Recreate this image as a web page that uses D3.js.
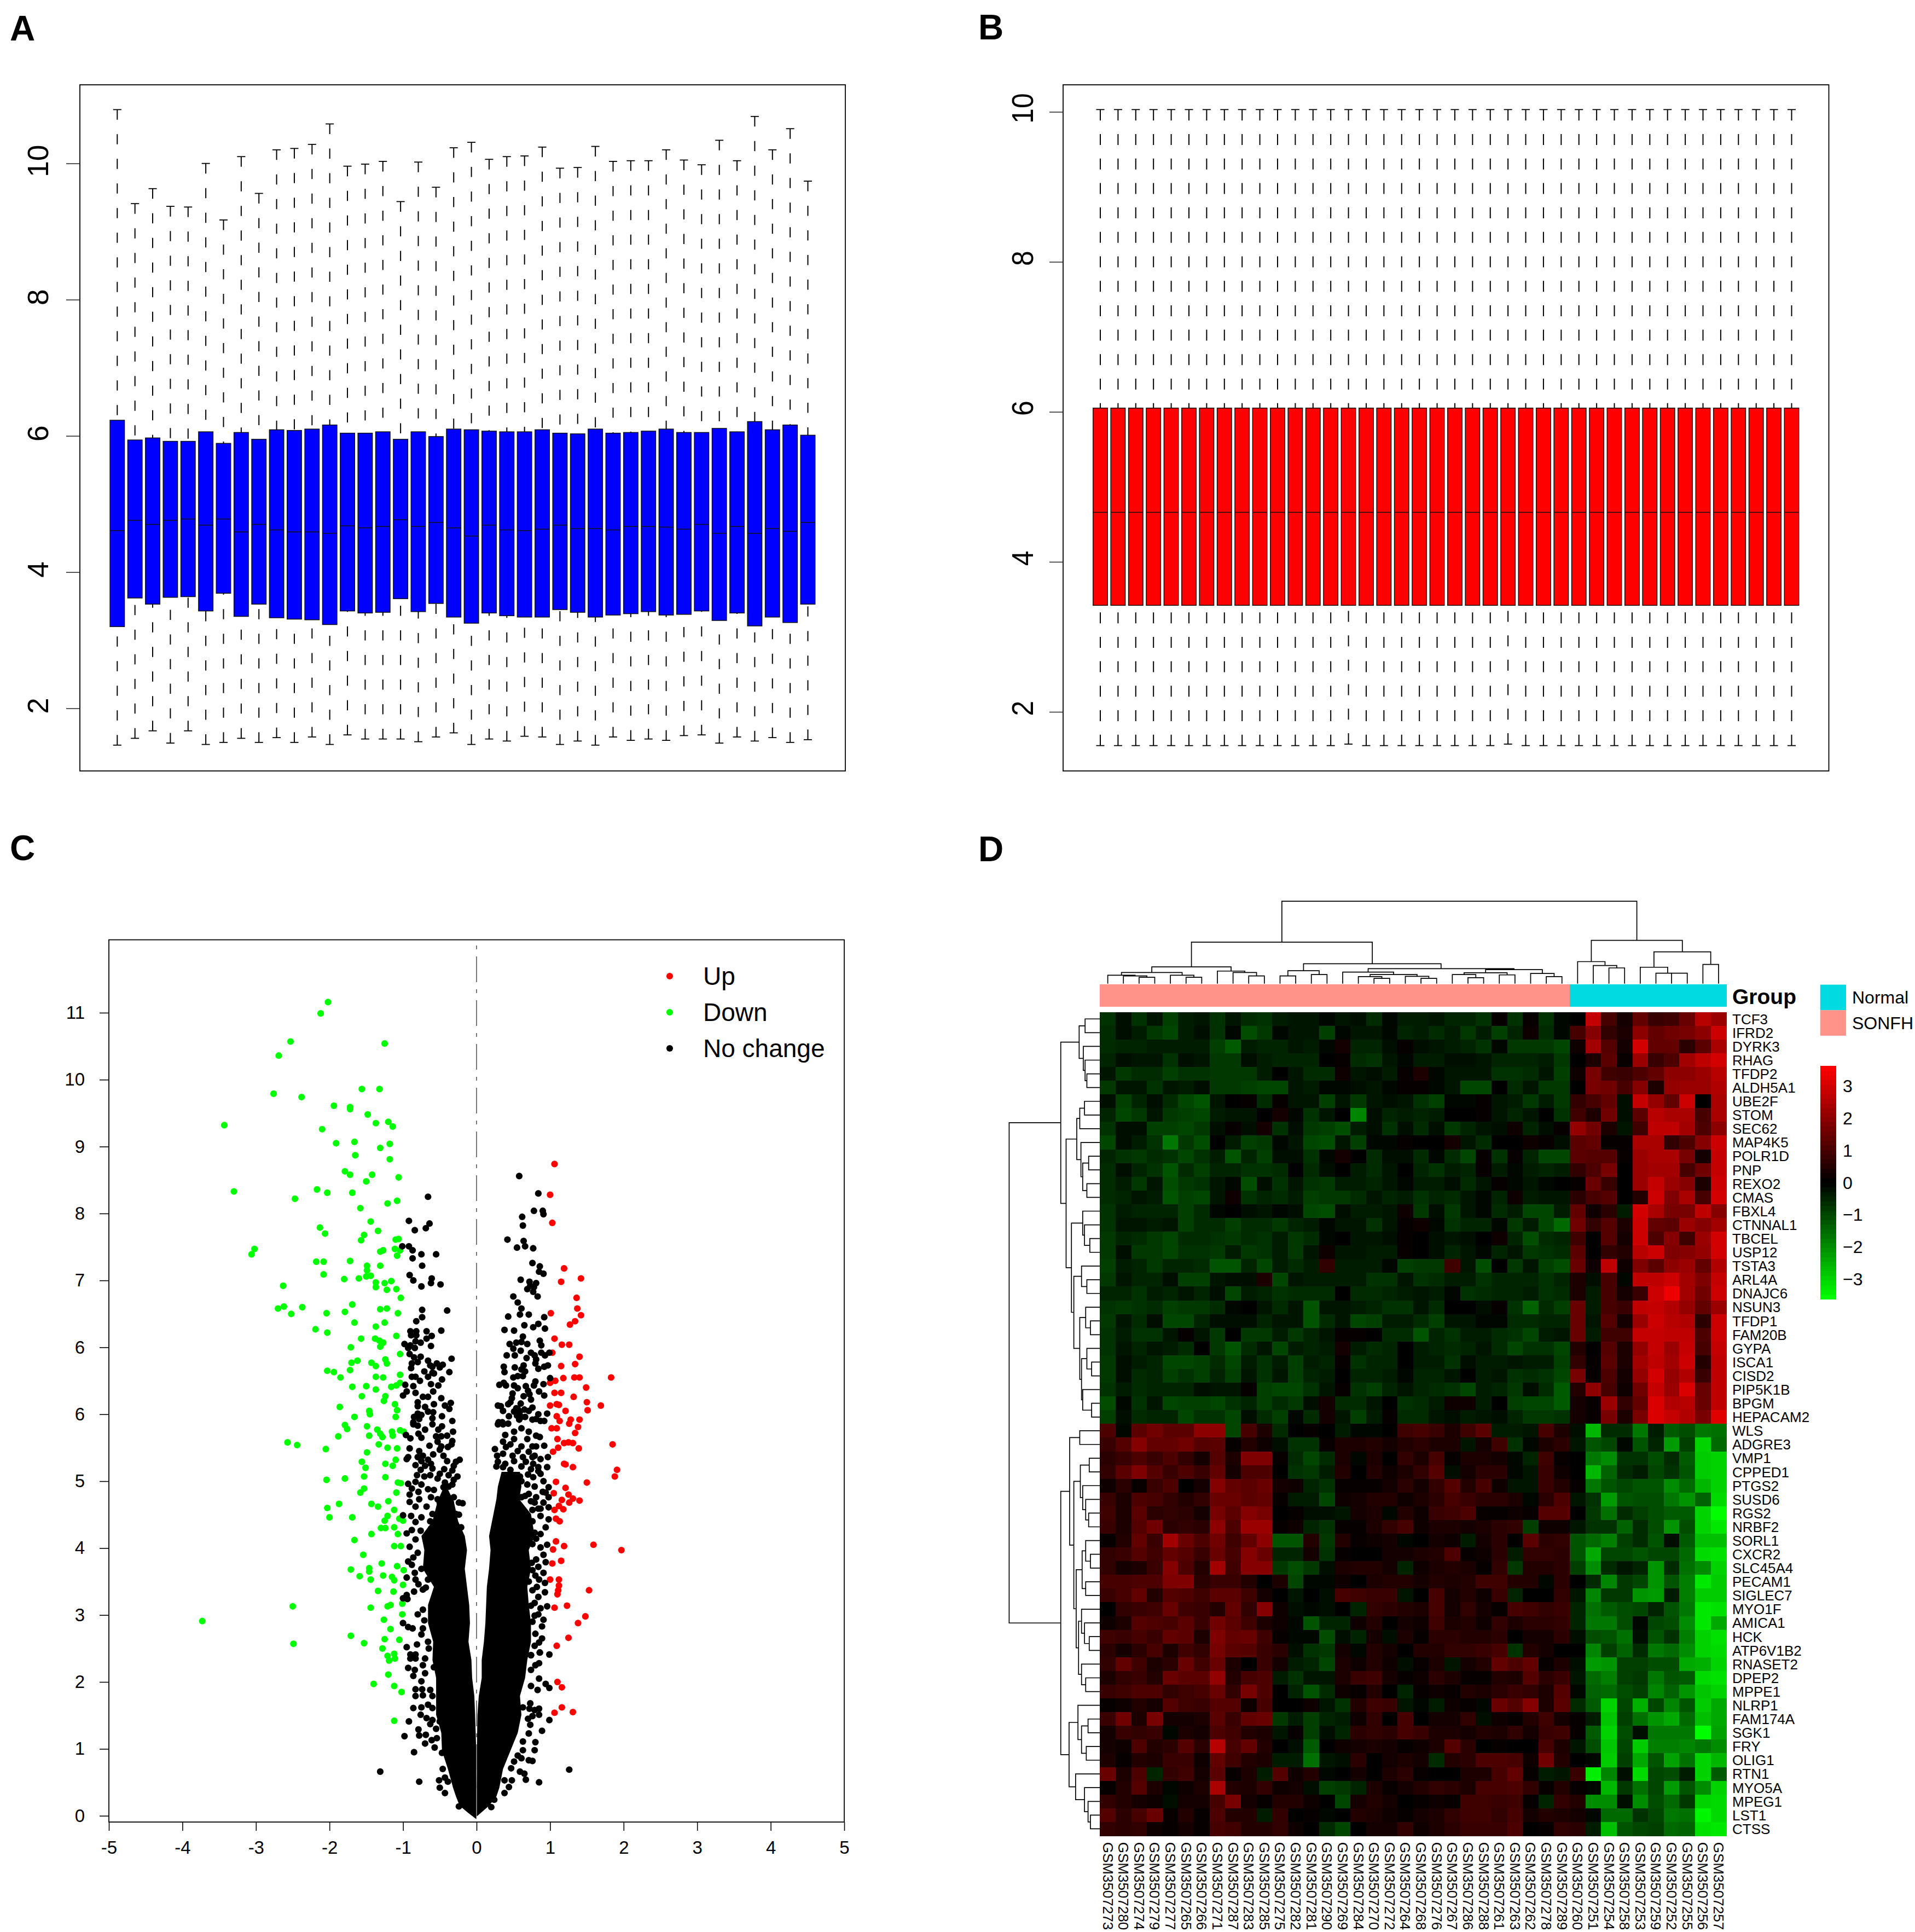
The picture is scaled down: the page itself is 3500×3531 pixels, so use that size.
<!DOCTYPE html>
<html>
<head>
<meta charset="utf-8">
<script src="https://cdn.jsdelivr.net/npm/d3@7"></script>
<style>
  body { margin: 0; background: #fff; }
  text { font-family: "Liberation Sans", Arial, sans-serif; fill: #000; }
</style>
</head>
<body>
<svg id="fig" width="3500" height="3531"></svg>
<script>
// Panel A, box statistics per sample (before normalisation)
const rawHigh = [10.79,9.41,9.63,9.37,9.36,10.0,9.17,10.10,9.56,10.20,10.22,10.28,10.58,9.96,9.99,10.03,9.44,10.02,9.65,10.23,10.31,10.06,10.10,10.11,10.24,9.93,9.94,10.25,10.03,10.04,10.04,10.20,10.05,9.98,10.34,10.04,10.69,10.20,10.51,9.74];
const rawQ3 = [6.23,5.94,5.97,5.92,5.92,6.06,5.89,6.05,5.95,6.09,6.08,6.10,6.16,6.04,6.04,6.06,5.95,6.06,5.99,6.10,6.09,6.07,6.06,6.06,6.09,6.04,6.03,6.10,6.04,6.05,6.07,6.10,6.05,6.05,6.11,6.06,6.21,6.09,6.16,6.01];
const rawMedian = [4.61,4.76,4.70,4.76,4.78,4.69,4.78,4.59,4.70,4.62,4.59,4.59,4.57,4.68,4.65,4.67,4.77,4.67,4.73,4.65,4.53,4.69,4.62,4.61,4.63,4.69,4.64,4.64,4.62,4.67,4.67,4.66,4.63,4.70,4.57,4.67,4.57,4.64,4.60,4.73];
const rawQ1 = [3.20,3.62,3.53,3.63,3.64,3.43,3.69,3.35,3.53,3.33,3.31,3.30,3.23,3.43,3.40,3.41,3.61,3.42,3.54,3.34,3.25,3.40,3.36,3.34,3.34,3.45,3.41,3.34,3.37,3.39,3.42,3.37,3.38,3.43,3.29,3.40,3.21,3.34,3.26,3.53];
const rawLow = [1.46,1.56,1.67,1.49,1.67,1.47,1.50,1.56,1.50,1.57,1.50,1.58,1.47,1.61,1.55,1.55,1.55,1.51,1.58,1.64,1.47,1.55,1.52,1.59,1.58,1.47,1.52,1.46,1.58,1.53,1.55,1.53,1.60,1.61,1.49,1.58,1.52,1.57,1.50,1.54];

// Panel B, after normalisation
const normHigh = [10.03,10.03,10.03,10.03,10.03,10.03,10.03,10.03,10.03,10.03,10.03,10.03,10.03,10.03,10.03,10.03,10.03,10.03,10.03,10.03,10.03,10.03,10.03,10.03,10.03,10.03,10.03,10.03,10.03,10.03,10.03,10.03,10.03,10.03,10.03,10.03,10.03,10.03,10.03,10.03];
const normQ3 = [6.05,6.05,6.05,6.05,6.05,6.05,6.05,6.05,6.05,6.05,6.05,6.05,6.05,6.05,6.05,6.05,6.05,6.05,6.05,6.05,6.05,6.05,6.05,6.05,6.05,6.05,6.05,6.05,6.05,6.05,6.05,6.05,6.05,6.05,6.05,6.05,6.05,6.05,6.05,6.05];
const normMedian = [4.66,4.66,4.66,4.66,4.66,4.66,4.66,4.66,4.66,4.66,4.66,4.66,4.66,4.66,4.66,4.66,4.66,4.66,4.66,4.66,4.66,4.66,4.66,4.66,4.66,4.66,4.66,4.66,4.66,4.66,4.66,4.66,4.66,4.66,4.66,4.66,4.66,4.66,4.66,4.66];
const normQ1 = [3.42,3.42,3.42,3.42,3.42,3.42,3.42,3.42,3.42,3.42,3.42,3.42,3.42,3.42,3.42,3.42,3.42,3.42,3.42,3.42,3.42,3.42,3.42,3.42,3.42,3.42,3.42,3.42,3.42,3.42,3.42,3.42,3.42,3.42,3.42,3.42,3.42,3.42,3.42,3.42];
const normLow = [1.55,1.55,1.55,1.55,1.55,1.55,1.55,1.55,1.55,1.55,1.55,1.55,1.55,1.55,1.57,1.55,1.55,1.55,1.55,1.55,1.55,1.55,1.55,1.57,1.55,1.55,1.55,1.55,1.55,1.55,1.55,1.55,1.55,1.55,1.55,1.55,1.55,1.55,1.55,1.55];
const boxTicks = [2, 4, 6, 8, 10];

// Panel C, volcano points as [logFC, position on the y axis]
const volcanoXTicks = [-5,-4,-3,-2,-1,0,1,2,3,4,5];
const volcanoYLabels = ["0","1","2","3","4","5","6","6","7","8","9","10","11"];
const volcanoLegend = ["Up", "Down", "No change"];
const downPoints = [[-2.02,12.16],[-2.12,11.99],[-2.53,11.57],[-1.25,11.54],[-2.69,11.36],[-2.76,10.79],[-2.38,10.74],[-1.56,10.86],[-1.32,10.86],[-1.94,10.61],[-1.72,10.59],[-1.72,10.56],[-1.48,10.48],[-1.37,10.35],[-1.20,10.37],[-1.14,10.30],[-3.43,10.32],[-2.10,10.26],[-1.91,10.05],[-1.66,10.07],[-1.31,9.98],[-1.18,10.04],[-1.65,9.87],[-1.18,9.81],[-1.79,9.63],[-1.72,9.58],[-1.42,9.58],[-1.50,9.48],[-1.06,9.54],[-3.30,9.33],[-2.47,9.22],[-2.17,9.36],[-2.03,9.31],[-1.69,9.31],[-1.21,9.15],[-1.08,9.19],[-1.58,9.08],[-1.44,8.88],[-2.13,8.79],[-2.06,8.70],[-1.34,8.74],[-1.53,8.68],[-1.57,8.60],[-1.06,8.62],[-1.10,8.61],[-1.27,8.45],[-1.31,8.43],[-1.11,8.47],[-1.04,8.45],[-1.08,8.37],[-3.02,8.47],[-3.06,8.39],[-2.18,8.28],[-2.08,8.28],[-1.72,8.29],[-1.49,8.22],[-1.31,8.22],[-2.08,8.09],[-1.49,8.15],[-1.80,8.02],[-1.60,8.03],[-1.50,8.06],[-1.44,8.07],[-1.37,7.97],[-1.25,7.96],[-1.16,7.99],[-1.37,7.90],[-1.22,7.86],[-1.09,7.87],[-2.63,7.92],[-2.70,7.58],[-2.62,7.61],[-2.37,7.60],[-2.52,7.50],[-2.04,7.51],[-1.79,7.53],[-1.69,7.64],[-1.31,7.57],[-1.22,7.58],[-1.07,7.51],[-1.03,7.74],[-1.66,7.37],[-2.19,7.27],[-2.03,7.22],[-1.37,7.31],[-1.25,7.37],[-1.09,7.17],[-1.57,7.13],[-1.38,7.13],[-1.32,7.10],[-1.27,7.07],[-1.71,7.00],[-1.31,7.01],[-1.04,6.90],[-1.62,6.80],[-1.70,6.77],[-1.43,6.77],[-1.37,6.72],[-1.24,6.82],[-1.22,6.76],[-2.03,6.65],[-1.94,6.63],[-1.85,6.55],[-1.72,6.66],[-1.37,6.56],[-1.27,6.55],[-1.50,6.42],[-1.69,6.41],[-1.37,6.37],[-1.16,6.41],[-1.09,6.43],[-1.04,6.47],[-1.04,6.59],[-1.56,6.27],[-1.24,6.27],[-1.26,6.20],[-1.11,6.15],[-1.86,6.11],[-1.46,6.05],[-1.08,6.06],[-1.66,5.96],[-1.45,6.00],[-1.10,5.96],[-1.79,5.84],[-1.76,5.78],[-1.49,5.82],[-1.35,5.77],[-1.31,5.71],[-1.15,5.74],[-1.04,5.76],[-1.88,5.67],[-1.46,5.68],[-1.28,5.66],[-1.14,5.68],[-0.99,5.74],[-2.57,5.58],[-2.44,5.54],[-2.05,5.48],[-1.49,5.43],[-1.33,5.55],[-1.21,5.50],[-1.08,5.49],[-1.56,5.29],[-1.24,5.26],[-1.10,5.32],[-1.14,5.23],[-1.51,5.20],[-2.04,5.02],[-1.79,5.04],[-1.53,5.07],[-1.24,5.06],[-1.07,4.98],[-1.53,4.89],[-1.58,4.83],[-1.03,4.97],[-1.09,4.83],[-2.03,4.60],[-1.87,4.66],[-1.43,4.66],[-1.34,4.62],[-1.20,4.70],[-1.12,4.57],[-2.00,4.46],[-1.69,4.46],[-1.21,4.48],[-1.25,4.41],[-1.05,4.44],[-1.30,4.30],[-1.24,4.30],[-1.12,4.31],[-1.00,4.41],[-1.43,4.21],[-1.07,4.21],[-1.66,4.12],[-1.03,4.03],[-1.12,4.03],[-1.54,3.90],[-1.29,3.77],[-1.71,3.68],[-1.46,3.70],[-1.46,3.65],[-1.08,3.73],[-1.59,3.58],[-1.44,3.53],[-1.27,3.59],[-1.15,3.57],[-1.12,3.52],[-0.99,3.67],[-1.34,3.36],[-1.13,3.35],[-1.00,3.45],[-1.44,3.11],[-1.21,3.13],[-2.50,3.13],[-1.17,3.15],[-1.01,3.17],[-1.01,3.01],[-3.73,2.91],[-1.26,2.93],[-1.17,2.79],[-1.71,2.69],[-1.05,2.63],[-1.25,2.64],[-1.53,2.58],[-2.49,2.57],[-1.28,2.50],[-1.21,2.39],[-1.12,2.42],[-1.19,2.32],[-1.11,2.35],[-1.20,2.11],[-1.40,1.97],[-1.12,1.94],[-1.02,1.85],[-1.12,1.42]];
const upPoints = [[1.06,9.74],[1.00,9.28],[1.03,8.86],[1.19,8.18],[1.42,8.03],[1.15,7.98],[1.36,7.74],[1.37,7.58],[1.01,7.51],[1.42,7.48],[1.34,7.39],[1.27,7.34],[1.06,7.13],[1.26,7.04],[1.16,7.04],[1.40,6.86],[1.03,6.92],[1.15,6.72],[1.34,6.75],[1.83,6.55],[1.18,6.54],[1.33,6.55],[1.40,6.55],[1.00,6.47],[1.07,6.50],[1.49,6.40],[1.06,6.32],[1.15,6.32],[1.69,6.13],[1.50,6.18],[1.32,6.26],[1.00,6.13],[1.12,6.14],[1.09,6.15],[1.21,6.05],[1.28,5.92],[1.40,5.92],[1.51,6.06],[1.09,5.97],[1.13,5.90],[1.26,5.86],[1.02,5.79],[1.09,5.79],[1.38,5.81],[1.34,5.72],[1.10,5.63],[1.19,5.57],[1.25,5.58],[1.31,5.57],[1.85,5.55],[1.39,5.49],[1.04,5.44],[1.11,5.50],[1.19,5.26],[1.21,5.25],[1.31,5.21],[1.91,5.17],[1.88,5.07],[1.08,4.99],[1.50,4.98],[1.21,4.90],[1.05,4.82],[1.25,4.80],[1.16,4.72],[1.31,4.74],[1.26,4.68],[1.40,4.71],[1.12,4.63],[1.18,4.58],[1.06,4.57],[1.08,4.44],[1.13,4.40],[1.19,4.03],[1.59,4.05],[1.97,3.97],[1.04,3.98],[1.08,4.10],[1.15,3.81],[1.03,3.77],[1.12,3.53],[1.00,3.53],[1.12,3.44],[1.11,3.37],[1.53,3.37],[1.10,3.31],[1.06,3.11],[1.23,3.14],[1.48,2.98],[1.38,2.88],[1.25,2.66],[1.09,2.54],[1.10,2.00],[1.16,1.92],[1.16,1.62],[1.06,1.54],[1.31,1.55]];
const noChangeLeft = [[-.66,9.25],[-.92,8.89],[-.64,8.85],[-.69,8.78],[-.84,8.75],[-1.01,8.51],[-.92,8.51],[-.87,8.45],[-.75,8.39],[-.55,8.39],[-.87,8.33],[-.74,8.22],[-.91,8.08],[-.86,8.00],[-.61,8.03],[-.62,7.96],[-.75,7.91],[-.49,7.94],[-.74,7.56],[-.40,7.55],[-.74,7.45],[-.82,7.39],[-.90,7.24],[-.82,7.24],[-.68,7.24],[-.48,7.25],[-.89,7.18],[-.82,7.18],[-.61,7.17],[-.68,7.13],[-.83,7.09],[-.76,7.07],[-.98,7.05],[-.90,7.03],[-.62,7.02],[-.93,6.99],[-.84,6.99],[-.91,6.90],[-.76,6.86],[-.85,6.85],[-.34,6.83],[-.66,6.80],[-.80,6.78],[-.88,6.76],[-.54,6.76],[-.46,6.74],[-.63,6.73],[-.50,6.70],[-.60,6.71],[-.89,6.69],[-.71,6.64],[-.37,6.63],[-.60,6.62],[-.58,6.61],[-.88,6.56],[-.83,6.56],[-.66,6.56],[-.47,6.52],[-.77,6.50],[-.62,6.45],[-.52,6.43],[-.97,6.44],[-.86,6.42],[-.95,6.34],[-.83,6.32],[-.59,6.34],[-1.00,6.28],[-.73,6.26],[-.66,6.26],[-.48,6.24],[-.80,6.18],[-.58,6.15],[-.35,6.17],[-.43,6.13],[-.80,6.12],[-.70,6.11],[-.37,6.08],[-.66,6.04],[-.59,6.03],[-.80,6.01],[-.85,5.96],[-.75,5.99],[-.47,5.97],[-.78,5.93],[-.60,5.94],[-.33,5.90],[-.86,5.88],
[-.86,5.85],[-.80,5.83],[-.70,5.77],[-.60,5.85],[-.47,5.82],[-.52,5.77],[-.32,5.74],[-.79,5.71],[-.96,5.69],[-.75,5.65],[-.90,5.64],[-.55,5.67],[-.48,5.67],[-.40,5.68],[-.53,5.59],[-.33,5.60],[-.39,5.51],[-.64,5.53],[-.48,5.52],[-.91,5.49],[-.78,5.45],[-.50,5.47],[-.34,5.55],[-.93,5.36],[-.80,5.36],[-.95,5.33],[-.73,5.38],[-.59,5.40],[-.45,5.38],[-.75,5.30],[-.66,5.32],[-.40,5.30],[-.28,5.29],[-.23,5.32],[-.83,5.24],[-.70,5.23],[-.62,5.26],[-.31,5.23],[-.76,5.17],[-.60,5.19],[-.44,5.18],[-.33,5.16],[-.81,5.09],[-.71,5.07],[-.63,5.09],[-.50,5.11],[-.38,5.09],[-.26,5.07],[-.53,5.04],[-.31,5.02],[-.83,4.99],[-.93,4.96],[-.75,4.95],[-.43,4.98],[-.33,4.95],[-.88,4.89],[-.79,4.84],[-.66,4.88],[-.58,4.87],[-.45,4.91],[-.38,4.92],[-.91,4.80],[-.78,4.73],[-.62,4.76],[-.53,4.73],[-.40,4.78],[-.31,4.76],[-.19,4.67],[-.91,4.69],[-.83,4.62],[-.68,4.62],[-.50,4.68],[-.35,4.68],[-.24,4.68],[-1.00,4.49],[-.89,4.48],[-.75,4.46],[-.60,4.51],[-.43,4.57],[-.28,4.51],[-.24,4.50],[-.83,4.39],[-.63,4.40],[-.47,4.43],[-.33,4.40],[-.21,4.31],[-.95,4.22],[-.88,4.27],[-.76,4.26],[-.62,4.29],[-.50,4.32],[-.31,4.31],[-.83,4.13],[-.91,4.02],[-.80,3.93],[-.86,3.86],[-.93,3.80],[-.88,3.75],[-.75,3.69],[-.84,3.63],[-.83,3.53],[-.95,3.56],[-.66,3.53],[-.79,3.46],[-.69,3.41],[-.85,3.35],[-.73,3.38],[-.95,3.30],[-1.00,3.25],[-.94,3.24],[-.73,3.08],[-.80,3.01],[-.71,2.92],[-1.00,2.88],[-.93,2.82],[-.87,2.80],[-.73,2.80],[-.75,2.71],[-.66,2.60],[-.65,2.50],
[-.95,2.52],[-.81,2.56],[-.90,2.41],[-.83,2.41],[-.90,2.35],[-.83,2.35],[-.70,2.35],[-.93,2.21],[-.84,2.18],[-.73,2.25],[-.86,2.09],[-.58,2.22],[-.70,2.13],[-.75,2.01],[-.83,1.89],[-.74,1.89],[-.63,1.88],[-.83,1.79],[-.73,1.80],[-.60,1.79],[-.86,1.61],[-.75,1.62],[-.66,1.66],[-.60,1.61],[-.76,1.51],[-.68,1.46],[-.60,1.43],[-.92,1.41],[-.63,1.37],[-.50,1.41],[-.79,1.29],[-.55,1.30],[-.98,1.19],[-.78,1.20],[-.69,1.21],[-.61,1.13],[-.54,1.16],[-.70,1.08],[-.57,1.02],[-.85,.95],[-.47,.94],[-1.31,.66],[-.46,.70],[-.43,.57],[-.78,.51],[-.51,.53],[-.39,.51],[-.50,.42],[-.43,.34],[-.24,.14]];
const noChangeRight = [[.58,9.56],[.84,9.30],[.78,9.04],[.90,9.04],[.91,8.99],[.62,8.95],[.63,8.82],[.42,8.61],[.64,8.59],[.55,8.49],[.66,8.51],[.77,8.48],[.76,8.26],[.86,8.21],[.85,8.13],[.91,8.10],[.60,8.01],[.72,7.98],[.81,7.96],[.73,7.92],[.78,7.90],[.69,7.87],[.77,7.83],[.83,7.76],[.50,7.76],[.56,7.67],[.61,7.58],[.43,7.46],[.59,7.49],[.71,7.49],[.92,7.45],[.65,7.33],[.84,7.35],[.77,7.30],[.38,7.26],[.51,7.25],[.93,7.28],[.63,7.16],[.86,7.10],[.54,7.07],[.45,7.05],[.61,7.08],[.69,7.05],[.88,7.03],[.50,6.98],[.60,6.95],[.74,6.92],[.99,6.92],[.88,6.92],[.41,6.88],[.52,6.88],[.79,6.88],[.93,6.88],[.68,6.84],[.81,6.82],[.80,6.76],[.64,6.73],[.37,6.71],[.52,6.70],[.97,6.73],[.92,6.71],[.84,6.68],[.61,6.67],[.66,6.64],[.38,6.63],[.63,6.57],[.50,6.55],[.56,6.57],[1.00,6.54],[.80,6.49],[.37,6.47],[.31,6.44],[.40,6.43],[.78,6.43],[.91,6.45],[.51,6.43],[.67,6.42],[.56,6.39],[.70,6.35],[.85,6.34],[.49,6.31],[.72,6.30],[.92,6.28],[.64,6.27],[.48,6.24],[.74,6.22],[.46,6.18],[.60,6.16],[.29,6.13],[.33,6.12],[.43,6.15],[.76,6.10],[.36,6.05],[.54,6.09],[.65,6.07],[.71,6.05],[.59,6.04],[.84,6.00],[.96,6.01],[.44,5.97],[.55,5.98],[.66,5.96],[.76,5.92],[.81,5.93],[.30,5.88],[.35,5.88],[.58,5.92],[.92,5.90],[.87,5.90],[.56,6.08],[.58,5.98],[.51,6.04],[.61,5.96],
[.86,5.66],[.92,5.53],[.81,5.52],[.97,5.36],[.87,5.33],[.79,5.38],[.96,5.21],[.91,5.00],[.87,5.11],[.84,5.21],[.98,4.91],[.90,4.84],[.98,4.76],[.81,4.76],[.94,4.83],[.98,4.61],[.87,4.59],[.79,4.68],[.87,4.48],[.98,4.43],[.94,4.31],[.87,4.21],[.79,4.23],[.81,4.14],[.96,4.05],[.87,4.01],[.76,4.06],[.91,3.90],[.81,3.83],[.94,3.79],[.75,3.78],[.84,3.72],[.91,3.63],[.76,3.67],[.80,3.59],[.85,3.53],[.93,3.48],[.71,3.50],[.82,3.42],[.93,3.34],[.76,3.37],[.84,3.27],[.79,3.18],[.96,3.13],[.87,3.10],[.74,3.14],[.84,3.01],[.79,2.99],[.91,2.93],[.76,2.90],[.89,2.83],[.80,2.72],[.89,2.65],[.85,2.59],[.79,2.54],[.74,2.40],[.86,2.44],
[.29,5.85],[.36,5.85],[.43,5.86],[.51,5.74],[.61,5.79],[.71,5.74],[.81,5.68],[.39,5.69],[.51,5.63],[.69,5.63],[.36,5.59],[.46,5.55],[.61,5.52],[.76,5.52],[.25,5.48],[.40,5.51],[.56,5.45],[.71,5.44],[.28,5.38],[.36,5.41],[.49,5.38],[.63,5.36],[.76,5.36],[.29,5.29],[.39,5.26],[.51,5.30],[.67,5.29],[.77,5.26],[.27,5.22],[.36,5.21],[.61,5.22],[.74,5.18],[.46,5.17],[.59,5.07],[.70,5.10],[.77,5.06],[.61,5.00],[.84,5.15],[.69,4.95],[.79,4.92],[.66,4.78],[.61,4.76],[.74,4.70],[.71,4.81],[.84,4.59],[.91,4.68],[.76,4.57],[.76,4.40],[.71,4.29],
[.86,2.44],[.99,2.41],[.74,2.40],[.85,2.28],[.74,2.18],[.80,2.25],[.85,2.05],[.94,1.97],[.99,1.91],[.83,1.88],[.74,1.94],[.73,1.68],[.63,1.62],[.72,1.60],[.85,1.60],[.79,1.58],[.85,1.51],[.76,1.49],[.99,1.43],[.70,1.45],[.73,1.36],[.89,1.27],[.71,1.23],[.63,1.11],[.80,1.10],[.79,.98],[.63,.98],[.56,.90],[.61,.86],[.71,.83],[.76,.82],[.51,.81],[.47,.71],[.59,.66],[.65,.63],[.67,.54],[.85,.50],[1.26,.69],[.48,.53],[.38,.53],[.44,.43],[.38,.34],[.24,.24],[.20,.13]];
// Envelope of the overplotted mass of points: [y, outer x, inner x]
const coreLeft = [[-.05,-.003,-.003],[.04,-.11,-.003],[.15,-.23,-.003],[.29,-.28,-.003],[.42,-.32,-.003],[.70,-.39,-.004],[.97,-.47,-.005],[1.24,-.48,-.012],[1.51,-.55,-.02],[1.79,-.55,-.03],[2.06,-.55,-.06],[2.33,-.60,-.07],[2.6,-.59,-.11],[2.88,-.66,-.09],[3.15,-.66,-.10],[3.42,-.58,-.13],[3.69,-.73,-.16],[3.97,-.71,-.13],[4.18,-.75,-.16],[4.4,-.60,-.25],[4.70,-.53,-.31],[4.9,-.45,-.40]];
const coreRight = [[-.01,.003,.003],[.15,.17,.003],[.29,.27,.003],[.42,.31,.003],[.70,.36,.004],[.97,.46,.005],[1.24,.56,.008],[1.51,.61,.012],[1.79,.59,.03],[2.06,.66,.07],[2.33,.69,.07],[2.6,.74,.10],[2.88,.74,.12],[3.15,.71,.13],[3.42,.69,.14],[3.69,.74,.17],[3.97,.71,.19],[4.18,.79,.17],[4.51,.74,.23],[4.73,.58,.27],[4.92,.61,.29],[5.14,.59,.34]];

// Panel D
const sampleNames = ["GSM3507273","GSM3507280","GSM3507274","GSM3507279","GSM3507277","GSM3507265","GSM3507266","GSM3507271","GSM3507287","GSM3507283","GSM3507285","GSM3507275","GSM3507282","GSM3507281","GSM3507290","GSM3507269","GSM3507284","GSM3507270","GSM3507272","GSM3507264","GSM3507268","GSM3507276","GSM3507267","GSM3507286","GSM3507288","GSM3507261","GSM3507263","GSM3507262","GSM3507278","GSM3507289","GSM3507260","GSM3507251","GSM3507254","GSM3507258","GSM3507253","GSM3507259","GSM3507252","GSM3507255","GSM3507256","GSM3507257"];
const geneNames = ["TCF3","IFRD2","DYRK3","RHAG","TFDP2","ALDH5A1","UBE2F","STOM","SEC62","MAP4K5","POLR1D","PNP","REXO2","CMAS","FBXL4","CTNNAL1","TBCEL","USP12","TSTA3","ARL4A","DNAJC6","NSUN3","TFDP1","FAM20B","GYPA","ISCA1","CISD2","PIP5K1B","BPGM","HEPACAM2","WLS","ADGRE3","VMP1","CPPED1","PTGS2","SUSD6","RGS2","NRBF2","SORL1","CXCR2","SLC45A4","PECAM1","SIGLEC7","MYO1F","AMICA1","HCK","ATP6V1B2","RNASET2","DPEP2","MPPE1","NLRP1","FAM174A","SGK1","FRY","OLIG1","RTN1","MYO5A","MPEG1","LST1","CTSS"];
const groupColors = { SONFH: "#ff9289", Normal: "#00dae0" };
const sonfhColumns = 30;
const colorTicks = [3, 2, 1, 0, -1, -2, -3];

// z-scores, first 30 columns of each row
const heatSonfh = [
[-.7,-.2,-.7,-.3,-.9,-.4,-.3,-.7,-.3,-.6,-.7,-.4,-.3,-.3,-.1,-.3,-.2,-.6,-.1,-.4,-.4,-.3,-.5,-.5,-.7,.1,-.7,.1,-.7,-.1],
[-.6,-.2,-.4,-.8,-1,-.4,-.2,-.7,-.1,-1.1,-.8,-.1,-.3,-.3,-.9,-.1,-.3,-.3,-.1,-.5,-.4,-.6,-.4,-.8,-.4,-.9,-.5,.2,-.6,-.1],
[-.6,-.5,-.5,-.4,-.4,-.4,-.4,-.9,-1.3,-.4,-.5,-.5,-.3,-.4,-.1,.3,-.5,-.5,-.2,.1,-.2,-.3,-.4,-.5,-.7,-.1,-.8,-.8,-.8,-1],
[-.5,-.2,-.3,-.3,-.7,-.2,-.3,-.8,-.8,-.2,-.4,-.5,-.5,-.5,0,.1,-.6,-.7,-.3,-.1,-.4,-.4,-.2,-.2,-.3,-.5,-.5,-.5,-.4,-.8],
[-.3,-.8,-.6,-.6,-.9,-.7,-.7,-.8,-.8,-.8,-.4,0,-.3,-.6,-.6,.2,-.3,-.2,-.4,.1,.4,-.1,-.3,-.3,-.3,-.7,-.7,-.6,-.3,-.9],
[-.8,-.3,-.3,-.7,-.3,-.4,-.2,-.8,-.8,-.9,-1,-1,-.3,-.4,-.1,-.1,-.2,-.3,-.1,.1,.1,-.1,-.3,-1,-1,0,-.6,-.3,-.8,-.8],
[-.2,-.9,-.5,-.2,-.6,-1,-1.2,-.3,0,.1,-.6,.1,-.3,-.3,-.9,-.3,-.8,-.3,-.2,-.3,-.7,-.9,-.1,-.1,.1,-.3,-.4,-.8,-.4,-.8],
[-.5,-1,-.8,-.3,-.8,-.9,-1,-.4,-.3,-.3,0,.3,-.1,-.7,-.3,0,-1.9,-.2,-.5,-.4,-.5,-.4,0,0,.1,-.3,-.5,-.3,0,-.7],
[-.7,-.2,-.2,-.9,-.9,-1,-.8,-.2,.1,-.2,.3,-.7,-.2,-.8,-.9,-1.1,-.4,-.2,-.7,-.2,-.6,-.2,-.8,-.5,-.3,-.2,.2,-.5,-.2,.1],
[-1,-.2,-.4,-.7,-1.7,-.8,-1.1,0,-.4,-.9,-.8,-.1,-.3,-1,-1.1,-.3,-.9,-.1,-.1,.1,0,0,.3,-.3,-.6,0,0,.2,.1,-.2],
[-.5,-.7,-.8,-.6,-.7,-1,-.7,-.4,-1.2,-.5,-.9,-.2,-.2,-.7,-.1,.3,0,-.6,-.2,-.2,-.6,-.1,-.6,-1,.1,-.7,.1,-.5,-1,-1],
[-.6,-.2,-.5,-.7,-1.2,-.6,-.9,-.5,-.5,-.7,-.7,-.6,0,-.6,-.2,0,-.4,-.6,-.3,0,-.5,-.7,-.4,-.5,.1,-.4,-.1,-.4,-.5,-.4],
[-.6,-.4,-.8,-.3,-1.1,-.8,-.7,-.3,-.1,-1.1,-.2,-.7,-.3,-.7,-.8,-.4,-.4,-.5,-.3,-.1,-.4,-.4,-.2,-.6,-.3,.1,-.1,-.3,-.1,0],
[-.6,-.5,-.3,-.4,-1.2,-.9,-1,-.3,.2,-.7,-.5,-.6,-.4,-.9,-.8,-.8,-.6,-.3,-.5,-.4,-.7,-.5,-.6,-.3,-.1,-.5,.2,-.4,-.3,-.3],
[-.7,-.4,-.5,-.5,-.5,-.9,-.6,-.1,0,-.2,-.3,-.1,-.2,-1,-1.1,-.2,-.4,-.4,-.3,.2,-.8,-.2,-.8,-.3,-.1,-.6,-.4,-1,-1,-.4],
[-.7,-.3,-.3,-.4,-.3,-.9,-.6,-.6,-.9,-.6,-.6,-.8,-.5,-.4,-.1,-.3,-.3,-.7,-.3,.1,.2,-.1,-.7,-.5,-.5,-.1,-.8,-.4,-1,-1.5],
[-.8,-.5,-.6,-.8,-1,-.6,-.6,-.7,-.8,-.6,-.7,-.4,-.8,-.6,-.1,0,-.3,-.3,-.2,.1,0,-.2,-.3,-.2,0,.2,-.5,-1.1,-.6,-.5],
[-.8,-.2,-.8,-.8,-1,-.7,-.7,-.8,-.4,-.8,-.7,-.4,-.8,-.3,.2,-.3,-.3,-.4,-.4,.1,0,-.2,-.5,-.3,-.1,-.5,-.3,-.8,-.7,-.6],
[-.9,-.4,-.5,-.8,-.5,-.5,-.6,-1.2,-1.2,-.5,-1,-.4,-.6,-.4,.7,-.4,-.4,-.4,-.1,-.9,-.8,-.8,.9,-.3,-1.1,0,-.8,-.3,-.9,-1.1],
[-.8,-.3,-.5,-.5,-.2,-.9,-.9,-.3,-.2,-.2,.4,-1,-.3,-.4,-.4,-.4,-.4,-.7,-.7,-.3,-.7,-.6,-.4,-.4,-.7,-.5,-.5,-.5,-.7,-.5],
[-.5,-.5,-.7,-.4,-.5,-.3,-.5,-.2,-1,-.4,-.5,-.7,-.6,-.6,-.6,0,-.6,-.6,-.5,-.4,-.3,-.4,-.1,-.7,-.6,-.5,-.5,-.4,-.7,-.6],
[-.7,-.8,-.7,-.6,-.9,-.8,-.8,-.6,-.1,0,-.3,-.6,-.3,-1.2,-.3,-.3,-.4,-.5,-.7,-.7,-.3,-.6,0,0,-.2,.1,-.7,-1.4,-.6,-.9],
[-.8,-.3,-.6,-.2,-1,-1,-.5,-.2,-.2,-.2,-.5,-.3,-.3,-1.2,-.6,-.3,-1,-.9,-.4,-.4,-.6,-.9,-.3,-.3,-.1,-.1,-.6,-.6,-.5,-.5],
[-.7,-.4,-.7,-.7,-.3,.1,-.3,-.8,0,-.8,-.8,-.4,-.8,-.5,-.3,.1,.1,0,-.6,-.6,-1.2,-.5,-.7,-.4,-.4,-.6,-.7,-1,-.4,-.3],
[-.7,-.3,-.5,-.3,-.4,-.6,0,-.8,-1.2,-.6,-.3,-1,-.4,-.5,-.4,.3,-.4,-.6,-.5,0,-.4,-.5,-.6,-.5,-.3,-.6,-1,-.7,-.7,-1],
[-.8,-.2,-.4,-.5,-1,-1,-.9,-.6,-1,-.4,-.7,-.4,-.9,-.4,-.5,.1,-.7,-.5,-.5,0,-.4,-.4,-.7,-.2,-.4,-.4,-.3,-.4,-.4,-.9],
[-.8,-.2,-.6,-.5,-.9,-.7,-.9,-.5,-.9,-.3,-.7,-.3,-.9,-.5,-.4,0,-.5,-.5,-.4,-.1,-.5,-.5,-.3,0,-.4,-.3,-.7,-.6,-.7,-1],
[-.7,-.4,-.6,-.5,-.5,-.5,-.2,-.3,-.3,.1,-.9,-1,-1,-.7,-.3,.1,-.7,-.9,-.5,-.3,-.5,-.6,-.7,-1,-.4,-.5,-.8,-.2,-.6,-1.3],
[-1.1,-.1,-.7,-.3,-1,-.9,-.9,-1,-.7,-.5,-.9,-.6,-.8,-.2,.3,-.6,-.6,-.3,0,-.7,-.6,-.4,.2,.2,-.4,0,-.9,-1,-1,-1.3],
[-.9,-.2,-.6,-.5,-.5,-1,-.7,-.7,-1,-.2,-.6,-.9,-.1,-.6,.3,-.3,-.9,-.4,.1,-.6,-.6,-.3,-.2,-.4,-.3,-.2,-.5,-.8,-.8,-.7],
[1.1,-.1,1.3,1.6,1.3,1.3,2,2,-1,1,.4,-.6,0,.1,0,-.4,-.1,-.1,0,.9,1,.8,.4,.9,1.3,-.4,-.4,-.3,1,.4],
[.8,1.2,1.9,1.4,1.4,1.6,1.2,1.3,.1,.5,.2,-.2,-.7,-.7,.1,.4,.4,.5,.3,.5,.6,.4,.4,-.3,.3,.9,-.7,-.1,.4,.6],
[.6,.8,1.1,.8,1.1,.7,.3,1.2,.4,1.8,1.8,.1,-.6,-1,-.6,.4,-.1,.4,0,.7,.4,1,.1,.4,.4,.3,-.1,-.5,.9,.1],
[.7,1.3,1.8,1.2,.8,1.1,.8,1.4,.3,1.1,1.1,0,-.7,-.8,-.4,.5,0,.5,.2,.4,.7,1.2,-.2,.3,.6,.6,-.1,-.3,.8,.2],
[.2,.6,.1,.8,1.1,0,.3,1.9,1.4,1.3,1.5,.3,.2,-.5,-.7,.1,.1,.1,.3,.6,.3,.7,1.2,.5,1,.2,-.3,-.3,.8,.5],
[.8,.4,1.1,1,.7,.5,.7,1.5,1.5,1.3,1.4,.1,-.4,-.4,-1,.2,.3,.5,.5,.2,.4,.6,1,.8,.6,.6,.4,-.1,.6,1.1],
[.9,.4,1.3,.6,.7,.6,.3,1.7,1.3,1.9,1.7,0,.1,-.2,-.2,-.3,.3,.4,-.1,.5,.2,.8,.9,1.1,.1,.1,.2,.1,1.2,1.2],
[.8,.4,1.2,1.6,.6,.7,.6,2,1.1,2.2,2.2,.1,.2,-.5,-.7,.1,.1,.4,.7,1,.2,.4,.4,.3,.4,.6,.7,-.9,.2,.2],
[.1,.5,1.4,.8,2.3,1.5,1.1,1.6,.9,1.4,2,-1.2,-1.2,.5,-.8,.5,.1,.2,.3,-.1,0,.3,.2,-.4,.3,.6,0,1.3,.6,.7],
[.7,.8,1.2,.9,1.4,1.2,.8,1.5,1,1.9,1.5,-.5,-.5,.3,-.7,.1,0,0,.3,.3,.4,.5,1.1,.1,.2,.6,-.4,.7,.7,.6],
[.7,.3,.4,.8,1.9,1.1,.5,2.3,.9,1.9,1.9,-.8,-1.1,-.8,-.2,.4,.5,.5,.3,-.5,.2,.4,.5,.4,.1,.7,-.8,.5,.5,.6],
[1,1,1.1,1.1,1.8,1.8,.6,.8,.8,.5,0,.4,-1,-.1,-.1,.2,0,.4,.5,.5,.3,.5,.4,.5,.9,.9,.5,.5,-.1,.6],
[.8,1,1.4,.5,1.2,1.1,.9,1.3,1.3,.9,.3,0,-.3,0,-.2,1,.9,.8,.8,-.3,0,1,.3,.5,.2,.8,-.5,0,0,.7],
[0,.7,.8,.9,1.5,.9,.8,.5,1.4,.7,1.9,.2,-.2,-.1,-.2,0,-.5,.7,.6,.5,.4,1,.3,.7,.3,.1,1,.9,.7,.8],
[.2,.4,1.2,1.1,1,1.3,.8,1.6,1.3,.9,.4,.2,-.1,-1.2,-.5,-.5,.2,.5,0,.3,.2,.9,.4,.5,.2,.7,.4,.6,.6,.7],
[.9,.8,1,.8,1.4,1.3,.4,1.8,1.4,1.5,.9,.1,-.1,-.1,-1.1,-.2,-.5,.3,-.2,.4,.1,.6,.6,.5,.5,.6,0,.3,.3,.6],
[.6,.3,.6,1,.4,.9,.7,1.7,1.3,1.2,.8,.6,-.2,-.7,-.8,.3,-.1,.5,.3,0,.5,.5,.7,.7,.8,1,-.7,.5,.3,0],
[.7,1.4,.9,.4,.6,1.5,.9,1.5,.4,0,.8,.3,-.4,-.5,-1,.4,.2,.5,.2,-.2,.1,.4,-.3,.3,.5,1.4,1.1,1.4,.1,.4],
[.4,.7,.8,.5,1.5,1.3,1.3,2.1,.5,1,1.1,-.4,-.7,-.3,-.3,.4,.8,.9,.3,.1,.2,.6,.4,.1,.1,.5,.4,1.2,.6,.8],
[.8,.9,1.1,1.1,.7,.9,1,1.5,.7,1.7,1.1,0,-.5,-1.2,-.6,.2,.1,.5,0,-.5,.1,.2,.1,.5,.4,.6,.8,.7,.4,1.2],
[.1,.2,.5,.3,1.2,.9,.8,1.2,1.2,.2,1,0,0,.2,-.3,-.7,.5,.9,.8,-.3,-.1,-.4,.2,.1,-.1,1.5,1.2,1.9,.4,1.3],
[.8,1.6,.4,1.7,.3,.3,.4,1.3,.8,1.4,1.5,-.8,-.4,-.9,-.5,-.4,.2,.7,0,1,0,.3,.3,.7,-.2,.2,.1,.5,.9,.3],
[.3,.8,.7,.8,-.1,.4,.3,1.1,.9,.5,.4,-.3,.1,-.9,-.2,-.5,.6,.7,.6,1,.8,.4,.4,.3,.5,.4,.7,.3,.8,.9],
[.3,.2,1.1,.5,.6,1.2,.6,2.6,1,1.4,.5,0,-.2,-1.3,0,.2,.3,.4,.3,.1,.2,.4,1.2,.6,0,.1,0,0,1,.4],
[.4,.1,.5,.4,.8,.8,.2,1.4,.9,.5,.4,-.4,-.4,-1.6,-.3,-.2,.6,0,.3,.4,.3,-.6,.5,.6,1.1,1.1,1,.2,1.6,.5],
[1.5,.4,1.1,-.5,.7,.9,.3,1.3,.1,.4,-.4,1.2,.2,.5,-.1,0,.3,0,.4,.6,.1,0,0,.4,.4,1,1.4,.1,-.4,-.3],
[.1,.5,1.2,.4,-.1,.2,.4,2.4,.5,.4,.7,.2,.3,-.2,-.9,-.8,-.5,.4,.1,.3,.5,.7,.6,.4,1,1,1.1,.7,.1,.5],
[.7,.5,.3,.2,-.2,.3,.3,1,1.7,.3,.1,.5,.5,.2,0,-1,.3,.5,.3,0,.1,.2,.1,.9,.9,.8,.9,.1,-.5,.7],
[1.2,.6,1,1.5,.1,.5,.1,1.1,.5,.5,-.4,.7,0,.1,-.1,0,.5,.4,.2,.1,.3,.4,.7,.9,.9,.7,1,.3,.5,.4],
[.7,.6,.7,.2,.1,.3,.1,1,.9,.5,.5,.7,.2,0,-.6,-1,0,.3,.3,.7,.2,.4,.6,.8,.8,.8,1.1,0,.1,.7]
];
// last 10 columns of each row
const heatNormal = [
[0,2.8,1,.3,1.4,.8,.9,1.5,2.6,2.2],[1,1.9,.7,.4,2,1.4,1.6,1.7,2,2.9],[.2,2.3,1.2,.3,3,1.4,1.4,.6,1.3,2.4],[0,.4,1.3,.1,2.2,.8,1.1,2.3,2.7,3],[.2,1.7,.9,.8,1.1,1.4,2,2,2.2,2.6],[0,1.7,1.6,1,1.9,.4,2.1,2.2,2.2,2.5],[.7,1,1.4,-.2,2.8,2.1,1.4,2.9,0,2.4],[.9,.4,1.6,-.2,1.3,2.6,2.4,2.4,1,2.4],[2.1,1.6,.4,-.3,.9,2.7,2.7,2.3,1.1,2],[1.3,1.4,.1,.1,2.4,2.4,.7,1.1,1.9,2.9],
[1.3,1.2,1.2,.1,2.2,2.4,2.4,1.7,.3,2.8],[.7,1.1,1.7,0,2.2,2.3,2.3,1,1.6,2.8],[.1,1.5,.8,0,2.2,2.8,2.2,1.9,.4,2.9],[.6,1,1.2,0,.5,2.9,1.8,2.4,1,3],[1.4,.2,.6,-.4,3,2.4,1.7,1.7,2.7,1.9],[1.6,.7,1.2,.4,2.9,1.4,1.3,2.2,1.9,2.3],[.9,0,1.2,.3,2.9,1.1,1.9,.9,2.2,3],[1.3,0,.7,.5,2.6,2.9,1.8,1.9,2.1,3],[1.5,.2,2.7,.2,1.8,1.3,2,2.2,1.4,2.5],[.4,-.2,1,-.1,2.7,2.7,2.9,2.3,1.8,2.8],
[.4,-.4,1,.3,.8,2.9,3.4,2.3,1.6,2.9],[1.5,-.4,1,.8,2.7,2.8,2.5,2.1,1.4,2.2],[1.5,-.3,1.2,.3,2.2,2.9,2.6,2.5,.6,2.9],[1.5,-.4,.9,.9,2.8,2.8,2.7,2.7,1.1,2.9],[.5,0,1.2,.4,2.1,2.8,2.2,2.8,1,2.8],[.7,.1,1.3,.4,2.3,2.7,2.3,2.9,.5,2.7],[1.7,.1,1.1,.3,2.1,3,2.1,2.5,.8,2.7],[.5,2,1,.2,1.6,2.8,2.2,3.1,1.5,2.7],[.3,.1,2.2,.7,1.4,3.1,2.5,2.6,1.5,2.7],[.3,.1,1.7,.4,1.7,3.1,2.8,2.5,1.7,3.2],
[-.2,-2.6,-.6,-.6,-1.7,-.4,-1.3,-1.1,-1.7,-1.6],[-.3,-1.2,-1,-.1,-1.2,-.5,-2.2,-.9,-3,-1.5],[0,-1.7,-2,-.7,-.7,-1.1,-.6,-1.3,-2.9,-3],[0,-2.6,-1.4,-.6,-.4,-1,-.7,-1.2,-2.9,-3],[.1,-1.7,-1.2,-1,-1.2,-1.2,-2,-1.5,-2.6,-3],[-.3,-.7,-2.2,-1.2,-1.1,-1.1,-1.7,-2.1,-1.4,-3.1],[0,-.8,-1.6,-.6,-.9,-1.1,-1.3,-1.3,-3,-3.6],[-.3,-.7,-.7,-1.4,-.6,-1.1,-2.1,-1.1,-3,-3.3],[-1.2,-1.5,-1.8,-.9,-.6,-1.2,-.2,-1.3,-2.7,-2.7],[-1.2,-2.4,-1,-1,-1.2,-1,-1,-1.5,-3.1,-3.2],
[-.9,-2,-.6,-.3,-.5,-2.1,-.6,-1.6,-2,-3],[0,-.6,-1.9,-.8,-1,-2.1,-1.2,-1.8,-3.3,-2.9],[-.3,-1.9,-.8,-.8,-2.1,-2.2,-.4,-1.8,-2.9,-2.9],[-.5,-1.6,-1.3,-1.1,-1,-.5,-1.2,-1.7,-3.3,-3.2],[-.5,-1.7,-1.7,-1.1,-.1,-1,-1.1,-2,-3.3,-2.4],[-.2,-1.1,-1.2,-1.6,-.2,-1.2,-.7,-1.8,-3,-3.2],[0,-1.9,-.9,-1.4,-.6,-1.7,-1.5,-2,-3,-3.1],[-.2,-2.2,-2.1,-.9,-.9,-1.1,-1.1,-2.4,-2.5,-3],[-.3,-1.5,-1.8,-.9,-.8,-1.7,-1.2,-1.3,-3.1,-3.2],[-.1,-1.4,-1.5,-1.1,-.9,-1.9,-1.4,-2.1,-2.8,-3],
[-.6,-1.3,-3,-1,-2.5,-1,-1.9,-1.2,-2.9,-2.4],[.1,-.4,-2.8,-.9,-1.6,-2.1,-2.4,-1.5,-2.7,-2.4],[.1,-1.3,-3,-1.1,-.2,-1.7,-1.7,-1.7,-3.6,-2.3],[-.3,-1.1,-2.8,-1,-2.9,-1.8,-1.8,-1.9,-1.7,-2],[0,-.1,-2.9,-.9,-2.4,-1.2,-2.3,-1.6,-3,-2.6],[.8,-3.4,-1.9,-.2,-3.1,-1,-1.1,-.4,-3,-1.3],[.1,-.1,-2.6,-.8,-1.6,-1,-2.2,-1.2,-2,-3],[.5,-2,-2,-.2,-2,-1.1,-1.5,-.8,-3,-3.1],[.3,-.1,-1.5,-1.5,-.7,-1,-1.7,-1.6,-3.5,-3.1],[.6,-.4,-2.7,-1.2,-1,-.9,-1.5,-1.4,-3.2,-3.3]
];
// dendrograms as [merge height, left child, right child], leaves are column / row indices
const columnTree = [236,
  [119,
    [48, [32,[24,0,[22,1,[18,2,3]]],[24,4,[18,5,6]]], [36,7,[32,8,[22,9,10]]]],
    [57, [37,[22,11,12],[26,13,14]],
      [43, [33,15,[26,[20,16,[15,17,18]],[21,19,[15,20,21]]]],
           [40,[31,[26,22,[17,23,24]],[25,25,26]],[29,27,[20,28,29]]]]]],
  [124, [63,30,[52,31,[45,32,33]]], [91,[47,34,[30,35,[30,36,37]]],[55,38,39]]]];
const rowTree = [153,
  [66,
    [35,[25,0,1],[28,2,[25,3,[22,4,5]]]],
    [57,
      [39,[34,[26,6,7],8],[32,9,[29,[19,10,11],[22,12,13]]]],
      [48,[29,14,[26,15,[17,16,17]]],
        [44,[31,18,[22,19,20]],[34,[24,21,[16,22,23]],[31,[22,24,[14,25,26]],[29,27,[14,28,29]]]]]]]],
  [66,
    [51,[34,30,31],
      [44,[33,[18,32,33],[29,34,[24,35,[19,36,37]]]],
        [40,[30,[24,38,[16,39,40]],[24,41,42]],
          [36,[31,43,[26,44,[18,45,46]]],[31,47,[24,48,49]]]]]],
    [52,[37,50,[31,[20,51,52],[23,53,54]]],[41,55,[26,56,[20,57,[16,58,59]]]]]]];

const svg = d3.select("#fig");

// Panel letters
const panelLetters = [["A",18,74],["B",1788,72],["C",18,1572],["D",1788,1574]];
svg.selectAll("text.letter").data(panelLetters).join("text")
  .attr("class", "letter")
  .attr("x", d => d[1])
  .attr("y", d => d[2])
  .attr("font-size", 64)
  .attr("font-weight", "bold")
  .text(d => d[0]);

// R style boxplot panel
function drawBoxPanel(o) {
  const g = svg.append("g");
  const x = d3.scaleLinear().domain([0, 39]).range([o.firstX, o.lastX]);
  const y = d3.scaleLinear().domain([2, 10]).range([o.y2, o.y10]);
  const idx = d3.range(40);

  g.selectAll("line.up").data(idx).join("line")
    .attr("x1", i => x(i)).attr("x2", i => x(i))
    .attr("y1", i => y(o.high[i])).attr("y2", i => y(o.q3[i]))
    .attr("stroke", "#000").attr("stroke-width", 2).attr("stroke-dasharray", o.dash);
  g.selectAll("line.down").data(idx).join("line")
    .attr("x1", i => x(i)).attr("x2", i => x(i))
    .attr("y1", i => y(o.low[i])).attr("y2", i => y(o.q1[i]))
    .attr("stroke", "#000").attr("stroke-width", 2).attr("stroke-dasharray", o.dash);
  // whisker caps
  [o.high, o.low].forEach(arr => {
    g.append("g").selectAll("line").data(idx).join("line")
      .attr("x1", i => x(i) - 7.5).attr("x2", i => x(i) + 7.5)
      .attr("y1", i => y(arr[i])).attr("y2", i => y(arr[i]))
      .attr("stroke", "#000").attr("stroke-width", 1.8);
  });
  // boxes
  g.append("g").selectAll("rect").data(idx).join("rect")
    .attr("x", i => x(i) - 13.2).attr("width", 26.4)
    .attr("y", i => y(o.q3[i])).attr("height", i => y(o.q1[i]) - y(o.q3[i]))
    .attr("fill", o.fill).attr("stroke", "#111").attr("stroke-width", 1.5);
  g.append("g").selectAll("line").data(idx).join("line")
    .attr("x1", i => x(i) - 13.2).attr("x2", i => x(i) + 13.2)
    .attr("y1", i => y(o.median[i])).attr("y2", i => y(o.median[i]))
    .attr("stroke", "#111").attr("stroke-width", 1.5);

  // frame and axis
  g.append("rect")
    .attr("x", o.left).attr("y", 155).attr("width", o.right - o.left).attr("height", 1409 - 155)
    .attr("fill", "none").attr("stroke", "#000").attr("stroke-width", 1.8);
  const axis = g.append("g")
    .attr("transform", `translate(${o.left},0)`)
    .call(d3.axisLeft(y).tickValues(boxTicks).tickSize(25));
  axis.select(".domain").remove();
  axis.selectAll("line").attr("stroke", "#222").attr("stroke-width", 1.5);
  axis.selectAll("text")
    .attr("x", null).attr("dy", null)
    .attr("text-anchor", "middle")
    .attr("font-size", o.fontSize)
    .attr("transform", `translate(${o.labelOffset},${o.labelShift}) rotate(-90) scale(1,${o.stretch})`);
}

drawBoxPanel({ high: rawHigh, q3: rawQ3, median: rawMedian, q1: rawQ1, low: rawLow, fill: "#0000ff",
  firstX: 214.3, lastX: 1476.5, y2: 1294.6, y10: 298.7, left: 146, right: 1545, dash: "18.5,26.5",
  fontSize: 53, stretch: 1, labelOffset: -57.7, labelShift: -5 });
drawBoxPanel({ high: normHigh, q3: normQ3, median: normMedian, q1: normQ1, low: normLow, fill: "#ff0000",
  firstX: 2011, lastX: 3274.5, y2: 1301, y10: 204.4, left: 1943, right: 3342.5, dash: "20,24.7",
  fontSize: 50, stretch: 1.1, labelOffset: -55, labelShift: -7 });

// Panel C, volcano plot
{
  const g = svg.append("g");
  const left = 199, right = 1543, top = 1717.6, bottom = 3330;
  const x = d3.scaleLinear().domain([-5, 5]).range([left, right]);
  const y = d3.scaleLinear().domain([-0.093, 13.09]).range([bottom, top]);

  const drawPoints = (pts, color) => g.append("g").selectAll("circle").data(pts).join("circle")
    .attr("cx", d => x(d[0])).attr("cy", d => y(d[1])).attr("r", 6.1).attr("fill", color);
  drawPoints(downPoints, "#00ff00");
  drawPoints(upPoints, "#ff0000");

  const coreArea = d3.area().x0(d => x(d[1])).x1(d => x(d[2])).y(d => y(d[0]));
  g.append("path").attr("d", coreArea(coreLeft)).attr("fill", "#000");
  g.append("path").attr("d", coreArea(coreRight)).attr("fill", "#000");
  drawPoints(noChangeLeft, "#000");
  drawPoints(noChangeRight, "#000");

  // centre line sits on top of the points
  g.append("line")
    .attr("x1", x(0)).attr("x2", x(0)).attr("y1", 1728).attr("y2", y(-0.05))
    .attr("stroke", "#777").attr("stroke-width", 2).attr("stroke-dasharray", "7,13,47,13");

  g.append("rect")
    .attr("x", left).attr("y", top).attr("width", right - left).attr("height", bottom - top)
    .attr("fill", "none").attr("stroke", "#000").attr("stroke-width", 1.8);

  const xAxis = g.append("g").attr("transform", `translate(0,${bottom})`)
    .call(d3.axisBottom(x).tickValues(volcanoXTicks).tickSize(16).tickFormat(d => String(d)));
  const yAxis = g.append("g").attr("transform", `translate(${left},0)`)
    .call(d3.axisLeft(y).tickValues(d3.range(13)).tickSize(17).tickFormat(i => volcanoYLabels[i]));
  [xAxis, yAxis].forEach(a => {
    a.select(".domain").remove();
    a.selectAll("line").attr("stroke", "#000").attr("stroke-width", 1.6);
    a.selectAll("text").attr("font-size", 33);
  });
  xAxis.selectAll("text").attr("y", 35).attr("dy", "0.71em");
  yAxis.selectAll("text").attr("x", -44);

  // legend
  const legendY = d3.scalePoint().domain(volcanoLegend).range([1784, 1916]);
  const legendColor = d3.scaleOrdinal().domain(volcanoLegend).range(["#ff0000", "#00ff00", "#000"]);
  g.append("g").selectAll("circle").data(volcanoLegend).join("circle")
    .attr("cx", 1224).attr("cy", d => legendY(d)).attr("r", 6.1).attr("fill", d => legendColor(d));
  g.append("g").selectAll("text").data(volcanoLegend).join("text")
    .attr("x", 1285).attr("y", d => legendY(d) + 16).attr("font-size", 46).text(d => d);
}

// Panel D, heatmap
{
  const g = svg.append("g");
  const left = 2010.3, right = 3155.3, top = 1849.7, bottom = 3355;
  const x = d3.scaleBand().domain(d3.range(40)).range([left, right]);
  const y = d3.scaleBand().domain(d3.range(60)).range([top, bottom]);
  const color = d3.scaleLinear().domain([-3.63, 0, 3.63]).range(["#00ff00", "#000000", "#ff0000"]);
  const cells = [];
  heatSonfh.forEach((row, r) => row.concat(heatNormal[r]).forEach((v, c) => cells.push({ r, c, v })));
  g.append("g").attr("shape-rendering", "crispEdges").selectAll("rect").data(cells).join("rect")
    .attr("x", d => x(d.c)).attr("y", d => y(d.r))
    .attr("width", x.bandwidth() + 0.5).attr("height", y.bandwidth() + 0.5)
    .attr("fill", d => color(d.v));

  // annotation bar
  const cols = d3.range(40);
  g.append("g").attr("shape-rendering", "crispEdges").selectAll("rect").data(cols).join("rect")
    .attr("x", c => x(c)).attr("y", 1799.3).attr("width", x.bandwidth() + 0.5).attr("height", 40.7)
    .attr("fill", c => c < sonfhColumns ? groupColors.SONFH : groupColors.Normal);
  g.append("text").attr("x", 3166).attr("y", 1835).attr("font-size", 39).attr("font-weight", "bold").text("Group");

  // row and column labels
  g.append("g").selectAll("text").data(geneNames).join("text")
    .attr("x", 3166).attr("y", (d, i) => y(i) + y.bandwidth() / 2).attr("dy", "0.36em")
    .attr("font-size", 26).text(d => d);
  g.append("g").selectAll("text").data(sampleNames).join("text")
    .attr("transform", (d, i) => `translate(${x(i) + x.bandwidth() / 2 - 9},3366.7) rotate(90)`)
    .attr("font-size", 26).text(d => d);

  // dendrograms
  const treePath = (node, pos, h, path, horizontal) => {
    if (typeof node === "number") return { p: pos(node), h: 0 };
    const a = treePath(node[1], pos, h, path, horizontal);
    const b = treePath(node[2], pos, h, path, horizontal);
    const pt = (p, v) => horizontal ? [h(v), p] : [p, h(v)];
    path.moveTo(...pt(a.p, a.h));
    path.lineTo(...pt(a.p, node[0]));
    path.lineTo(...pt(b.p, node[0]));
    path.lineTo(...pt(b.p, b.h));
    return { p: (a.p + b.p) / 2, h: node[0] };
  };
  const colPath = d3.path();
  treePath(columnTree, c => x(c) + x.bandwidth() / 2, d3.scaleLinear().domain([0, 236]).range([1797.7, 1647.2]), colPath, false);
  const rowPath = d3.path();
  treePath(rowTree, r => y(r) + y.bandwidth() / 2, d3.scaleLinear().domain([0, 153]).range([left, 1844.4]), rowPath, true);
  [colPath, rowPath].forEach(p => g.append("path").attr("d", p.toString())
    .attr("fill", "none").attr("stroke", "#000").attr("stroke-width", 1.7));

  // group legend
  const groupNames = ["Normal", "SONFH"];
  const groupY = d3.scaleBand().domain(groupNames).range([1799.6, 1892.9]);
  g.append("g").selectAll("rect").data(groupNames).join("rect")
    .attr("x", 3326.8).attr("y", d => groupY(d)).attr("width", 47.2).attr("height", groupY.bandwidth())
    .attr("fill", d => groupColors[d]);
  g.append("g").selectAll("text").data(groupNames).join("text")
    .attr("x", 3385).attr("y", d => groupY(d) + 34.5).attr("font-size", 32).text(d => d);

  // colour bar
  const barY = d3.scaleLinear().domain([-3.63, 3.63]).range([2374, 1948]);
  const steps = d3.range(50).map(i => -3.63 + i * 7.26 / 50);
  g.append("g").attr("shape-rendering", "crispEdges").selectAll("rect").data(steps).join("rect")
    .attr("x", 3326.8).attr("width", 29)
    .attr("y", d => barY(d + 7.26 / 50)).attr("height", barY(0) - barY(7.26 / 50) + 0.5)
    .attr("fill", d => color(d + 7.26 / 100));
  g.append("g").selectAll("text").data(colorTicks).join("text")
    .attr("x", 3368).attr("y", d => barY(d)).attr("dy", "0.36em").attr("font-size", 32)
    .text(d => d < 0 ? "\u2212" + Math.abs(d) : d);
}
</script>
</body>
</html>
